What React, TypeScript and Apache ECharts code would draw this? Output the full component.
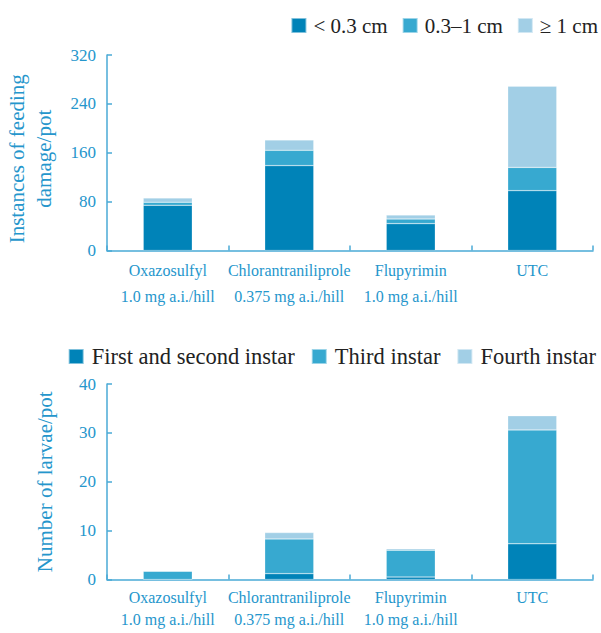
import React, { useEffect, useRef } from 'react';
import * as echarts from 'echarts';

const categories = [
  'Oxazosulfyl\n1.0 mg a.i./hill',
  'Chlorantraniliprole\n0.375 mg a.i./hill',
  'Flupyrimin\n1.0 mg a.i./hill',
  'UTC',
];

const damageNames = ['< 0.3 cm', '0.3–1 cm', '≥ 1 cm'];
const damageSmall = [74, 139, 44, 98];
const damageMid = [5, 25, 7.5, 38];
const damageLarge = [7, 17, 6.5, 133];
const damageTicks = { min: 0, max: 320, interval: 80 };

const larvaeNames = ['First and second instar', 'Third instar', 'Fourth instar'];
const larvaeFirstSecond = [0, 1.2, 0.5, 7.3];
const larvaeThird = [1.7, 7.1, 5.5, 23.3];
const larvaeFourth = [0, 1.3, 0.3, 2.9];
const larvaeTicks = { min: 0, max: 40, interval: 10 };

const COLORS = ['#0083B8', '#37A9D0', '#A2CFE6'];
const FONT = 'Liberation Serif';
const AXIS_LINE = '#4AAAD6';
const LABEL = '#2596CC';

export default function App() {
  const ref = useRef<HTMLDivElement>(null);
  useEffect(() => {
    if (!ref.current) return;
    const chart = echarts.init(ref.current, undefined, { renderer: 'svg' });
    const xAxisBase = (lineHeight: number, margin: number) => ({
      type: 'category',
      data: categories,
      axisLine: { lineStyle: { color: AXIS_LINE, width: 1.5 } },
      axisTick: { show: true, inside: true, length: 5, lineStyle: { color: AXIS_LINE, width: 1.5 } },
      axisLabel: {
        color: LABEL,
        fontFamily: FONT,
        fontSize: 16,
        lineHeight,
        margin,
        interval: 0,
      },
      splitLine: { show: false },
    });
    const yAxisBase = {
      type: 'value',
      nameLocation: 'middle',
      nameRotate: 90,
      axisLine: { show: true, lineStyle: { color: AXIS_LINE, width: 1.5 } },
      axisTick: { show: true, inside: true, length: 5, lineStyle: { color: AXIS_LINE, width: 1.5 } },
      axisLabel: { color: LABEL, fontFamily: FONT, fontSize: 17, margin: 11 },
      splitLine: { show: false },
    };
    const barSeries = (name: string, data: number[], idx: number, stack: string, axis: number) => ({
      name,
      type: 'bar',
      stack,
      data,
      xAxisIndex: axis,
      yAxisIndex: axis,
      barWidth: 49,
      itemStyle: { color: COLORS[idx], borderColor: 'rgba(255,255,255,0.5)', borderWidth: 0.5 },
    });
    const legendBase = {
      itemWidth: 15,
      itemHeight: 15,
      padding: 0,
      icon: 'rect',
    };
    chart.setOption({
      animation: false,
      backgroundColor: '#fff',
      legend: [
        {
          ...legendBase,
          data: damageNames,
          right: 3,
          top: 15,
          itemGap: 14,
          textStyle: { fontFamily: FONT, fontSize: 21, color: '#222', padding: [0, 0, 0, 2] },
        },
        {
          ...legendBase,
          data: larvaeNames,
          right: 5,
          top: 345,
          itemGap: 16,
          textStyle: { fontFamily: FONT, fontSize: 22.5, color: '#222', padding: [0, 0, 0, 3] },
        },
      ],
      grid: [
        { left: 107, top: 55, width: 486, height: 195.5, outerBoundsMode: 'none' },
        { left: 107, top: 384, width: 486, height: 195.5, outerBoundsMode: 'none' },
      ],
      xAxis: [
        { ...xAxisBase(26, 7), gridIndex: 0 },
        { ...xAxisBase(22, 7), gridIndex: 1 },
      ],
      yAxis: [
        {
          ...yAxisBase,
          gridIndex: 0,
          ...damageTicks,
          name: 'Instances of feeding\ndamage/pot',
          nameGap: 50,
          nameTextStyle: {
            color: LABEL,
            fontFamily: FONT,
            fontSize: 21,
            lineHeight: 27,
            padding: [0, 12, 0, 0],
          },
        },
        {
          ...yAxisBase,
          gridIndex: 1,
          ...larvaeTicks,
          name: 'Number of larvae/pot',
          nameGap: 52,
          nameTextStyle: { color: LABEL, fontFamily: FONT, fontSize: 21 },
        },
      ],
      series: [
        barSeries(damageNames[0], damageSmall, 0, 'damage', 0),
        barSeries(damageNames[1], damageMid, 1, 'damage', 0),
        barSeries(damageNames[2], damageLarge, 2, 'damage', 0),
        barSeries(larvaeNames[0], larvaeFirstSecond, 0, 'larvae', 1),
        barSeries(larvaeNames[1], larvaeThird, 1, 'larvae', 1),
        barSeries(larvaeNames[2], larvaeFourth, 2, 'larvae', 1),
      ],
    });
    return () => chart.dispose();
  }, []);
  return (
    <div
      ref={ref}
      style={{ position: 'absolute', left: 0, top: 0, width: 601, height: 633 }}
    />
  );
}
